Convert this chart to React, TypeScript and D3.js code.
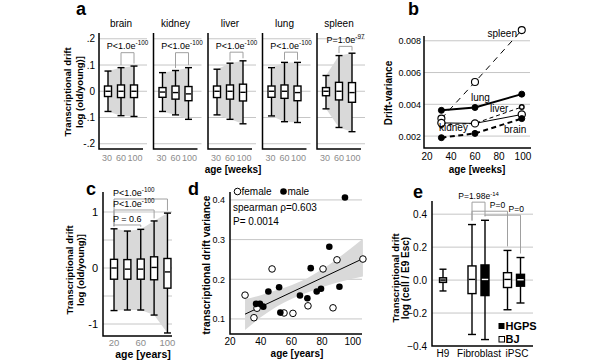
import { useEffect, useRef } from "react";
import * as d3 from "d3";

type G = d3.Selection<SVGGElement, unknown, null, undefined>;
type Lin = d3.ScaleLinear<number, number>;
// box stats: [low whisker, q1, median, q3, high whisker]
type Stats = number[];

const FONT = "'Liberation Sans', Arial, Helvetica, sans-serif";
const GRID = "#c6c6c6";
const BAND = "#d9d9d9";
const BRACKET = "#a0a0a0";
const TICK_GRAY = "#8c8c8c";

// ---- a: mouse tissues, drift by age (weeks)
const TISSUES = ["brain", "kidney", "liver", "lung", "spleen"];
const MOUSE_AGES = [30, 60, 100];
const MOUSE_GRID = [-0.2, -0.1, 0, 0.1, 0.2];
const MOUSE_GRID_LABELS = ["-.2", "-.1", "0", ".1", ".2"];
const MOUSE_BOXES: Stats[][] = [
  [[-0.077, -0.02, 0, 0.02, 0.077], [-0.093, -0.024, 0, 0.024, 0.09], [-0.096, -0.024, 0, 0.024, 0.096]],
  [[-0.077, -0.023, -0.003, 0.014, 0.071], [-0.09, -0.03, -0.005, 0.02, 0.079], [-0.107, -0.036, -0.01, 0.018, 0.09]],
  [[-0.09, -0.024, 0, 0.02, 0.084], [-0.107, -0.03, 0, 0.024, 0.107], [-0.124, -0.037, -0.004, 0.027, 0.116]],
  [[-0.094, -0.023, 0, 0.02, 0.09], [-0.116, -0.027, 0, 0.024, 0.11], [-0.119, -0.036, -0.005, 0.02, 0.11]],
  [[-0.067, -0.017, 0, 0.014, 0.06], [-0.138, -0.033, 0, 0.034, 0.136], [-0.154, -0.042, -0.005, 0.033, 0.145]],
];
const MOUSE_P_BASE = ["P<1.0e", "P<1.0e", "P<1.0e", "P<1.0e", "P=1.0e"];
const MOUSE_P_EXP = ["-100", "-100", "-100", "-100", "-97"];
const MOUSE_P_LEVEL = [0.147, 0.147, 0.149, 0.149, 0.171];

// ---- b: drift variance per tissue
const VAR_AGES = [32, 60, 99];
const VAR_SERIES = [
  { name: "spleen", values: [0.0031, 0.0054, 0.00867] },
  { name: "lung", values: [0.00362, 0.0038, 0.00464] },
  { name: "liver", values: [0.0027, 0.0028, 0.00383] },
  { name: "kidney", values: [0.00283, 0.0028, 0.00336] },
  { name: "brain", values: [0.0019, 0.00217, 0.0031] },
];
// label anchors in data space
const VAR_LABELS = [
  { name: "spleen", age: 95, value: 0.00824, anchor: "end" },
  { name: "lung", age: 56.7, value: 0.00421, anchor: "start" },
  { name: "liver", age: 72.5, value: 0.00352, anchor: "start" },
  { name: "kidney", age: 30, value: 0.00232, anchor: "start" },
  { name: "brain", age: 84.2, value: 0.00219, anchor: "start" },
];
const VAR_TICKS_Y = [0.002, 0.004, 0.006, 0.008];
const VAR_TICKS_X = [20, 40, 60, 80, 100];

// ---- c: human drift by age (years)
const HUMAN_AGES = [20, 40, 60, 80, 100];
const HUMAN_BOXES: Stats[] = [
  [-0.76, -0.2, 0, 0.155, 0.7],
  [-0.75, -0.2, -0.02, 0.15, 0.66],
  [-0.75, -0.2, -0.02, 0.16, 0.69],
  [-0.84, -0.21, 0.01, 0.2, 0.84],
  [-1.16, -0.36, -0.07, 0.17, 0.98],
];
const HUMAN_GRID = [-1, -0.5, 0, 0.5, 1];
const HUMAN_LABELED = [-1, 0, 1];
const HUMAN_XTICKS = [20, 60, 100];
const HUMAN_P = [
  { to: 100, level: 1.232, base: "P<1.0e", exp: "-100" },
  { to: 80, level: 1.036, base: "P<1.0e", exp: "-100" },
  { to: 60, level: 0.768, base: "P = 0.6", exp: "" },
];

// ---- d: variance vs age scatter
const FEMALE = [
  [29.8, 0.16], [35.6, 0.103], [37.6, 0.127], [47.4, 0.226], [55.2, 0.115], [61, 0.114],
  [70.8, 0.133], [80.6, 0.226], [87.1, 0.128], [89.7, 0.249], [106.6, 0.251],
];
const MALE = [
  [37, 0.138], [39.5, 0.138], [41.7, 0.131], [45, 0.169], [52, 0.18], [52.8, 0.116],
  [65.6, 0.159], [70.4, 0.152], [72.6, 0.228], [76.5, 0.169], [79.3, 0.176], [84.7, 0.282],
  [91.3, 0.181], [94.9, 0.406],
];
const FIT_LINE = [[29.8, 0.112], [106.6, 0.252]];
// confidence band: [age, lower, upper]
const FIT_BAND = [
  [29.8, 0.072, 0.15], [40, 0.104, 0.16], [50, 0.13, 0.172], [60, 0.15, 0.185],
  [70, 0.166, 0.202], [80, 0.18, 0.225], [90, 0.192, 0.252], [106.6, 0.207, 0.302],
];
const SCATTER_TICKS_Y = [0.1, 0.2, 0.3, 0.4];
const SCATTER_TICKS_X = [20, 40, 60, 80, 100];

// ---- e: cell lines
const CELL_GROUPS = ["H9", "Fibroblast", "iPSC"];
const CELL_BOXES = [
  { group: "H9", line: "H9", stats: [-0.066, -0.014, 0, 0.014, 0.066] },
  { group: "Fibroblast", line: "BJ", stats: [-0.33, -0.082, 0.004, 0.086, 0.337] },
  { group: "Fibroblast", line: "HGPS", stats: [-0.361, -0.094, 0.004, 0.092, 0.363] },
  { group: "iPSC", line: "BJ", stats: [-0.18, -0.045, 0.004, 0.045, 0.18] },
  { group: "iPSC", line: "HGPS", stats: [-0.139, -0.037, 0.002, 0.035, 0.137] },
];
const CELL_P = [
  { a: 1, b: 2, level: 0.473, base: "P=1.98e", exp: "-14", at: 0.5, above: 0.018 },
  { a: 1, b: 3, level: 0.418, base: "P=0", exp: "", at: 0.72, above: 0.018 },
  { a: 2, b: 4, level: 0.394, base: "P=0", exp: "", at: 0.88, above: 0.018 },
];
const CELL_TICKS = [-0.4, -0.2, 0, 0.2, 0.4];
const CELL_LABEL_SHIFT: Record<string, number> = { H9: 0, Fibroblast: 0.5, iPSC: 3 };

function boxPlot(g: G, cx: number, w: number, s: Stats, y: Lin, fill = "#fff", median = "#000") {
  const [lo, q1, med, q3, hi] = s;
  const k = g.append("g").attr("stroke", "#000").attr("stroke-width", 1.4);
  k.append("line").attr("x1", cx).attr("x2", cx).attr("y1", y(hi)).attr("y2", y(lo));
  for (const v of [lo, hi]) {
    k.append("line").attr("x1", cx - w / 2).attr("x2", cx + w / 2).attr("y1", y(v)).attr("y2", y(v));
  }
  k.append("rect")
    .attr("x", cx - w / 2).attr("y", y(q3))
    .attr("width", w).attr("height", y(q1) - y(q3))
    .attr("fill", fill);
  k.append("line")
    .attr("x1", cx - w / 2 + 0.8).attr("x2", cx + w / 2 - 0.8)
    .attr("y1", y(med)).attr("y2", y(med))
    .attr("stroke", median);
}

function pValue(g: G, x: number, y: number, base: string, exp: string, anchor = "middle", size = 9) {
  const t = g.append("text").attr("x", x).attr("y", y).attr("text-anchor", anchor).attr("font-size", size);
  t.append("tspan").text(base);
  if (exp) t.append("tspan").attr("font-size", size * 0.7).attr("dy", -size * 0.42).text(exp);
}

function vLabel(g: G, x: number, y: number, text: string, size = 9.5) {
  g.append("text")
    .attr("transform", `translate(${x},${y}) rotate(-90)`)
    .attr("text-anchor", "middle").attr("font-size", size).attr("font-weight", "bold")
    .text(text);
}

function hLabel(g: G, x: number, y: number, text: string, size = 10, bold = true) {
  g.append("text").attr("x", x).attr("y", y).attr("text-anchor", "middle")
    .attr("font-size", size).attr("font-weight", bold ? "bold" : "normal").text(text);
}

function letter(g: G, x: number, y: number, s: string) {
  g.append("text").attr("x", x).attr("y", y).attr("font-size", 18).attr("font-weight", "bold").text(s);
}

function gridLines(g: G, ys: number[], x1: number, x2: number) {
  for (const v of ys) {
    g.append("line").attr("x1", x1).attr("x2", x2).attr("y1", v).attr("y2", v)
      .attr("stroke", GRID).attr("stroke-width", 1);
  }
}

function axesL(g: G, x1: number, x2: number, yTop: number, yBottom: number) {
  g.append("path").attr("d", `M${x1},${yTop}V${yBottom}H${x2}`)
    .attr("fill", "none").attr("stroke", "#000").attr("stroke-width", 1.5);
}

function drawMouse(root: G) {
  const y = d3.scaleLinear().domain([-0.22, 0.222]).range([149, 33]);
  const col = d3.scaleBand().domain(TISSUES).range([99, 371.5]);
  const xa = d3.scalePoint<number>().domain(MOUSE_AGES).range([9, 35]);
  const w = 44;

  TISSUES.forEach((t, i) => {
    const g = root.append("g").attr("transform", `translate(${col(t)},0)`);
    const boxes = MOUSE_BOXES[i];
    gridLines(g, MOUSE_GRID.map(y), 0, w + 4);

    const area = d3.area<Stats>()
      .x((_, j) => xa(MOUSE_AGES[j])!)
      .y0((d) => y(d[0])).y1((d) => y(d[4]));
    g.append("path").attr("d", area(boxes)).attr("fill", BAND);

    axesL(g, 0, w, y.range()[1], y.range()[0]);
    boxes.forEach((s, j) => boxPlot(g, xa(MOUSE_AGES[j])!, 7, s, y));

    hLabel(g, w / 2, 27, t, 10, false);

    // bracket between 60 and 100
    const x1 = xa(60)!;
    const x2 = xa(100)!;
    const ly = y(MOUSE_P_LEVEL[i]);
    g.append("path")
      .attr("d", `M${x1},${y(boxes[1][4]) - 2.5}V${ly}H${x2}V${y(boxes[2][4]) - 2.5}`)
      .attr("fill", "none").attr("stroke", BRACKET).attr("stroke-width", 1);
    pValue(g, (x1 + x2) / 2, ly - 3.5, MOUSE_P_BASE[i], MOUSE_P_EXP[i]);

    MOUSE_AGES.forEach((a) => {
      g.append("text").attr("x", xa(a)! + (a === 100 ? 1 : a === 30 ? -1 : 0)).attr("y", 161)
        .attr("text-anchor", "middle").attr("font-size", 9).attr("fill", TICK_GRAY).text(String(a));
    });

    if (i === 0) {
      MOUSE_GRID.forEach((v, k) => {
        g.append("text").attr("x", -4).attr("y", y(v) + 3.5).attr("text-anchor", "end")
          .attr("font-size", 10).text(MOUSE_GRID_LABELS[k]);
      });
    }
  });

  vLabel(root, 71, 92, "Transcriptional drift");
  vLabel(root, 83, 92, "log (old/young)]");
  hLabel(root, 233, 173, "age  [weeks]", 10);
  letter(root, 76, 15, "a");
}

function drawVariance(root: G) {
  const x = d3.scaleLinear().domain([17.5, 106.7]).range([424, 531]);
  const y = d3.scaleLinear().domain([0.00125, 0.0083]).range([148, 36]);
  const g = root.append("g");

  gridLines(g, VAR_TICKS_Y.map(y), 424, 530);
  axesL(g, 424, 531, 36, 148);

  VAR_TICKS_Y.forEach((v) => {
    g.append("text").attr("x", 421).attr("y", y(v) + 3.5).attr("text-anchor", "end")
      .attr("font-size", 9).text(d3.format(".3f")(v));
  });
  VAR_TICKS_X.forEach((v) => {
    g.append("text").attr("x", x(v)).attr("y", 160).attr("text-anchor", "middle")
      .attr("font-size", 10).text(String(v));
  });

  const style: Record<string, { w: number; dash: string | null; r: number; fill: string; mw: number }> = {
    spleen: { w: 1, dash: "6,5", r: 3.5, fill: "#fff", mw: 1.1 },
    lung: { w: 2, dash: null, r: 3, fill: "#000", mw: 1 },
    liver: { w: 1, dash: "4,3", r: 2.3, fill: "#fff", mw: 1.4 },
    kidney: { w: 1, dash: null, r: 3.6, fill: "#fff", mw: 1.2 },
    brain: { w: 2, dash: "5,3.5", r: 3, fill: "#000", mw: 1 },
  };

  const line = d3.line<number>().x((_, j) => x(VAR_AGES[j])).y((d) => y(d));
  for (const s of VAR_SERIES) {
    const st = style[s.name];
    g.append("path").attr("d", line(s.values)).attr("fill", "none")
      .attr("stroke", "#000").attr("stroke-width", st.w)
      .attr("stroke-dasharray", st.dash);
  }
  for (const s of VAR_SERIES) {
    const st = style[s.name];
    s.values.forEach((v, j) => {
      g.append("circle").attr("cx", x(VAR_AGES[j])).attr("cy", y(v)).attr("r", st.r)
        .attr("fill", st.fill).attr("stroke", "#000").attr("stroke-width", st.mw);
    });
  }
  for (const l of VAR_LABELS) {
    g.append("text").attr("x", x(l.age)).attr("y", y(l.value)).attr("text-anchor", l.anchor)
      .attr("font-size", 10).text(l.name);
  }

  vLabel(root, 392, 93, "Drift-variance", 10);
  hLabel(root, 477, 173, "age [weeks]", 10);
  letter(root, 408, 15, "b");
}

function drawHuman(root: G) {
  const x = d3.scaleLinear().domain([3.5, 106.8]).range([103, 172]);
  const y = d3.scaleLinear().domain([-1.214, 1.357]).range([336, 192]);
  const g = root.append("g");

  gridLines(g, HUMAN_GRID.map(y), 103, 172);
  const area = d3.area<Stats>()
    .x((_, j) => x(HUMAN_AGES[j]))
    .y0((d) => y(d[0])).y1((d) => y(d[4]));
  g.append("path").attr("d", area(HUMAN_BOXES)).attr("fill", BAND);
  axesL(g, 103, 172, 192, 336);

  HUMAN_BOXES.forEach((s, j) => boxPlot(g, x(HUMAN_AGES[j]), 7, s, y));

  const hiOf = (age: number) => HUMAN_BOXES[HUMAN_AGES.indexOf(age)][4];
  for (const p of HUMAN_P) {
    const ly = y(p.level);
    g.append("path")
      .attr("d", `M${x(20)},${y(hiOf(20)) - 2.5}V${ly}H${x(p.to)}V${y(hiOf(p.to)) - 2.5}`)
      .attr("fill", "none").attr("stroke", BRACKET).attr("stroke-width", 1);
    pValue(g, x(20) - 1, ly - 3, p.base, p.exp, "start");
  }

  HUMAN_LABELED.forEach((v) => {
    g.append("text").attr("x", 98).attr("y", y(v) + 4).attr("text-anchor", "end")
      .attr("font-size", 11).text(String(v));
  });
  HUMAN_XTICKS.forEach((v) => {
    g.append("text").attr("x", x(v)).attr("y", 346).attr("text-anchor", "middle")
      .attr("font-size", 9.5).attr("fill", TICK_GRAY).text(String(v));
  });

  vLabel(root, 73, 270, "Transcriptional drift");
  vLabel(root, 84, 270, "log (old/young)]");
  hLabel(root, 143, 358, "age [years]", 10.5);
  letter(root, 86, 195, "c");
}

function drawScatter(root: G) {
  const x = d3.scaleLinear().domain([20, 106]).range([230, 362]);
  const y = d3.scaleLinear().domain([0.062, 0.42]).range([334, 192]);
  const g = root.append("g");

  gridLines(g, SCATTER_TICKS_Y.map(y), 230, 362);

  const band = d3.area<number[]>()
    .x((d) => x(d[0])).y0((d) => y(d[1])).y1((d) => y(d[2]))
    .curve(d3.curveMonotoneX);
  g.append("path").attr("d", band(FIT_BAND)).attr("fill", BAND);

  axesL(g, 230, 362, 192, 334);

  const fit = d3.line<number[]>().x((d) => x(d[0])).y((d) => y(d[1]));
  g.append("path").attr("d", fit(FIT_LINE)).attr("fill", "none").attr("stroke", "#000").attr("stroke-width", 1);

  for (const d of FEMALE) {
    g.append("circle").attr("cx", x(d[0])).attr("cy", y(d[1])).attr("r", 3.3)
      .attr("fill", "#fff").attr("stroke", "#000").attr("stroke-width", 1);
  }
  for (const d of MALE) {
    g.append("circle").attr("cx", x(d[0])).attr("cy", y(d[1])).attr("r", 3.3).attr("fill", "#000");
  }

  SCATTER_TICKS_Y.forEach((v) => {
    g.append("text").attr("x", 225).attr("y", y(v) + 3.5).attr("text-anchor", "end")
      .attr("font-size", 9).text(d3.format(".1f")(v));
  });
  SCATTER_TICKS_X.forEach((v) => {
    g.append("text").attr("x", x(v)).attr("y", 345).attr("text-anchor", "middle")
      .attr("font-size", 10).text(String(v));
  });

  // legend
  g.append("circle").attr("cx", 237.5).attr("cy", 191.5).attr("r", 3.3)
    .attr("fill", "#fff").attr("stroke", "#000").attr("stroke-width", 1);
  g.append("text").attr("x", 241.5).attr("y", 195).attr("font-size", 10).text("female");
  g.append("circle").attr("cx", 283.5).attr("cy", 191.5).attr("r", 3.3).attr("fill", "#000");
  g.append("text").attr("x", 287.5).attr("y", 195).attr("font-size", 10).text("male");
  g.append("text").attr("x", 233).attr("y", 211).attr("font-size", 10).text("spearman ρ=0.603");
  g.append("text").attr("x", 233).attr("y", 225).attr("font-size", 10).text("P= 0.0014");

  vLabel(root, 210, 265, "transcriptional drift variance", 10.3);
  hLabel(root, 297, 356.5, "age [years]", 10);
  letter(root, 188, 195, "d");
}

function drawCells(root: G) {
  const y = d3.scaleLinear().domain([-0.4, 0.48]).range([346, 201]);
  const xg = d3.scalePoint<string>().domain(CELL_GROUPS).range([443, 514]);
  const sub: Record<string, number> = { H9: 0, BJ: -6.5, HGPS: 6.5 };
  const cx = (b: { group: string; line: string }) => xg(b.group)! + sub[b.line];
  const g = root.append("g");

  gridLines(g, CELL_TICKS.filter((v) => v > -0.4).map(y), 432, 533);
  axesL(g, 432, 533, 201, 346);

  CELL_BOXES.forEach((b) => {
    if (b.line === "HGPS") boxPlot(g, cx(b), 8, b.stats, y, "#000", "#fff");
    else if (b.line === "H9") boxPlot(g, cx(b), 7, b.stats, y, "#c8c8c8");
    else boxPlot(g, cx(b), 8, b.stats, y);
  });

  for (const p of CELL_P) {
    const A = CELL_BOXES[p.a];
    const B = CELL_BOXES[p.b];
    const ly = y(p.level);
    g.append("path")
      .attr("d", `M${cx(A)},${y(A.stats[4]) - 4}V${ly}H${cx(B)}V${y(B.stats[4]) - 4}`)
      .attr("fill", "none").attr("stroke", BRACKET).attr("stroke-width", 1);
    pValue(g, cx(A) + (cx(B) - cx(A)) * p.at, y(p.level + p.above), p.base, p.exp, "middle", 8.5);
  }

  CELL_TICKS.forEach((v) => {
    g.append("text").attr("x", 427).attr("y", y(v) + 3.5).attr("text-anchor", "end")
      .attr("font-size", 10).text(d3.format(".1f")(v));
  });
  CELL_GROUPS.forEach((c) => {
    g.append("text").attr("x", xg(c)! + CELL_LABEL_SHIFT[c]).attr("y", 357)
      .attr("text-anchor", "middle").attr("font-size", 10).text(c);
  });

  // legend
  g.append("rect").attr("x", 498.5).attr("y", 323).attr("width", 6).attr("height", 6).attr("fill", "#000");
  g.append("text").attr("x", 505.5).attr("y", 329.5).attr("font-size", 11).attr("font-weight", "bold").text("HGPS");
  g.append("rect").attr("x", 499).attr("y", 336.5).attr("width", 5.5).attr("height", 5.5)
    .attr("fill", "#fff").attr("stroke", "#000").attr("stroke-width", 1);
  g.append("text").attr("x", 505.5).attr("y", 343).attr("font-size", 11).attr("font-weight", "bold").text("BJ");

  vLabel(root, 399, 278, "Transcriptional drift");
  vLabel(root, 409, 278, "log (cell / E9 Esc)", 10);
  letter(root, 413, 198, "e");
}

export default function App() {
  const svgRef = useRef<SVGSVGElement>(null);

  useEffect(() => {
    if (!svgRef.current) return;
    const svg = d3.select(svgRef.current);
    svg.selectAll("*").remove();
    const root = svg.append("g").attr("font-family", FONT) as unknown as G;
    drawMouse(root);
    drawVariance(root);
    drawHuman(root);
    drawScatter(root);
    drawCells(root);
  }, []);

  return (
    <svg
      ref={svgRef}
      width={600}
      height={360}
      style={{ position: "absolute", left: 0, top: 0, background: "#fff" }}
    />
  );
}
